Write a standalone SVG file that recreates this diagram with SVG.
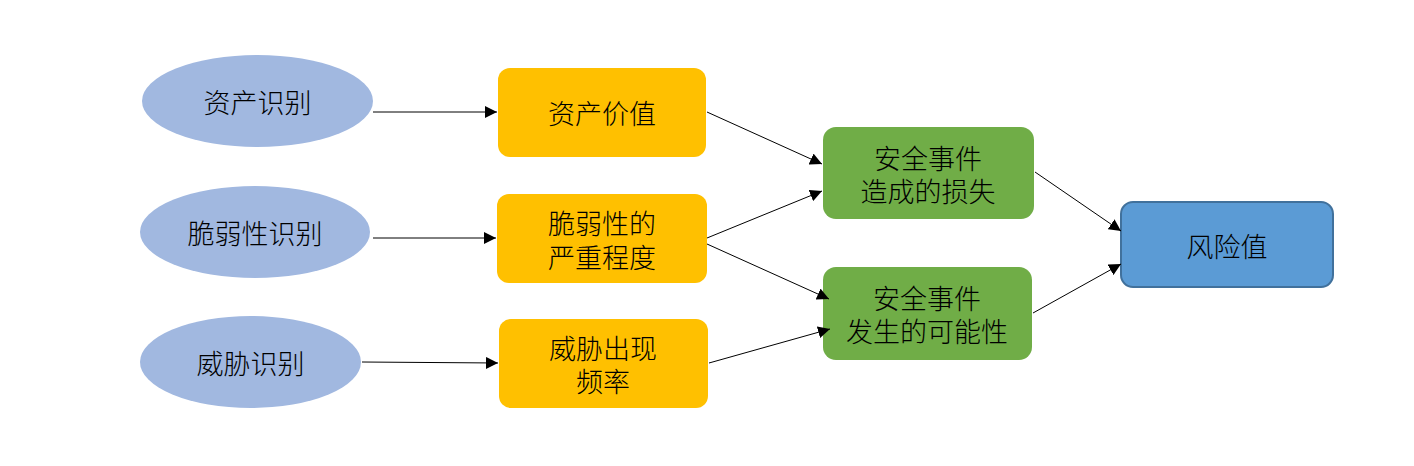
<svg xmlns="http://www.w3.org/2000/svg" width="1414" height="466" viewBox="0 0 1414 466">
<style>
.el{fill:#A1B8E0;}
.or{fill:#FFC000;}
.gr{fill:#70AD47;}
.bl{fill:#5B9BD5;stroke:#41719C;stroke-width:2;}
text{font-family:"Noto Sans CJK SC","Noto Sans",sans-serif;font-size:27px;font-weight:300;fill:#000;text-anchor:middle;dominant-baseline:central;}
.c line{stroke:#000;stroke-width:1;marker-end:url(#ah);}
</style>
<defs>
<marker id="ah" viewBox="0 0 10 10" refX="10" refY="5" markerWidth="12" markerHeight="12" markerUnits="userSpaceOnUse" orient="auto">
<path d="M0,0 L10,5 L0,10 z" fill="#000"/>
</marker>
</defs>
<rect width="1414" height="466" fill="#fff"/>
<g id="n1"><ellipse class="el" cx="257.5" cy="101" rx="115.5" ry="46"/><text x="257.5" y="101">资产识别</text></g>
<g id="n2"><ellipse class="el" cx="255" cy="232" rx="115" ry="46"/><text x="255" y="232">脆弱性识别</text></g>
<g id="n3"><ellipse class="el" cx="250.5" cy="362" rx="110.5" ry="46"/><text x="250.5" y="362">威胁识别</text></g>
<g id="n4"><rect class="or" x="498" y="68" width="208" height="89" rx="12"/><text x="602" y="112">资产价值</text></g>
<g id="n5"><rect class="or" x="497" y="194" width="210" height="89" rx="12"/><text x="602" y="222">脆弱性的</text><text x="602" y="256">严重程度</text></g>
<g id="n6"><rect class="or" x="499" y="319" width="209" height="89" rx="12"/><text x="603" y="347">威胁出现</text><text x="603" y="380">频率</text></g>
<g id="n7"><rect class="gr" x="823" y="127" width="211" height="92" rx="13"/><text x="928" y="157">安全事件</text><text x="928" y="190">造成的损失</text></g>
<g id="n8"><rect class="gr" x="823" y="267" width="209" height="93" rx="13"/><text x="927" y="297">安全事件</text><text x="927" y="330">发生的可能性</text></g>
<g id="n9"><rect class="bl" x="1121" y="202" width="212" height="85" rx="12"/><text x="1227" y="245">风险值</text></g>
<g class="c" id="connectors">
<line x1="373" y1="112" x2="497" y2="112"/>
<line x1="373" y1="238" x2="496" y2="238"/>
<line x1="362" y1="362" x2="498" y2="363"/>
<line x1="707" y1="112" x2="822" y2="164"/>
<line x1="707" y1="238" x2="822" y2="191"/>
<line x1="707" y1="244" x2="829" y2="299"/>
<line x1="709" y1="363" x2="830" y2="329"/>
<line x1="1035" y1="172" x2="1121" y2="231"/>
<line x1="1033" y1="313" x2="1121" y2="264"/>
</g>
</svg>
